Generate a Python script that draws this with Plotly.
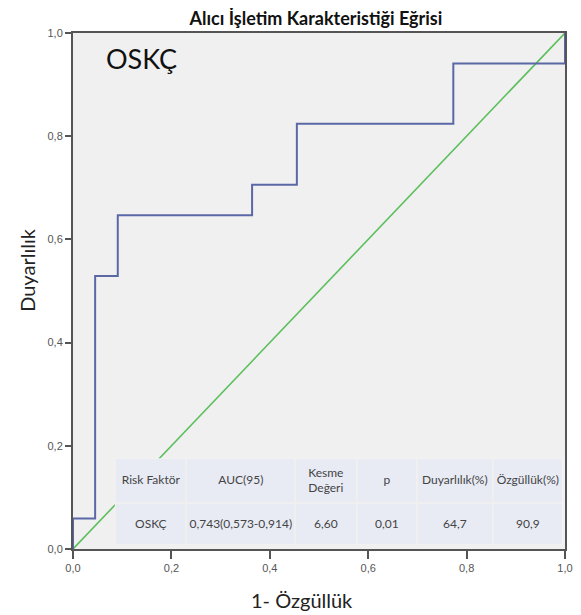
import plotly.graph_objects as go

# ROC curve data (1-specificity, sensitivity)
fpr = [0.0, 0.0, 0.045, 0.045, 0.091, 0.091, 0.364, 0.364, 0.455, 0.455, 0.773, 0.773, 1.0, 1.0]
tpr = [0.0, 0.059, 0.059, 0.529, 0.529, 0.647, 0.647, 0.706, 0.706, 0.824, 0.824, 0.941, 0.941, 1.0]
ref_x = [0.0, 1.0]
ref_y = [0.0, 1.0]

tick_vals = [0.0, 0.2, 0.4, 0.6, 0.8, 1.0]
tick_text = ["0,0", "0,2", "0,4", "0,6", "0,8", "1,0"]

table_header = ["Risk Faktör", "AUC(95)", "Kesme<br>Değeri", "p", "Duyarlılık(%)", "Özgüllük(%)"]
table_row = ["OSKÇ", "0,743(0,573-0,914)", "6,60", "0,01", "64,7", "90,9"]
col_widths = [71, 109, 62, 60, 75, 70]
row_heights = [42, 45]  # data row (bottom), header row (top)

col_edges = [0]
for w in col_widths:
    col_edges.append(col_edges[-1] + w)
row_edges = [0]
for h in row_heights:
    row_edges.append(row_edges[-1] + h)

fig = go.Figure()
fig.add_trace(go.Scatter(x=ref_x, y=ref_y, mode="lines",
                         line=dict(color="#5cbf5c", width=1.6), showlegend=False, hoverinfo="skip"))
fig.add_trace(go.Scatter(x=fpr, y=tpr, mode="lines",
                         line=dict(color="#5a68a6", width=2), showlegend=False))

fig.add_trace(go.Heatmap(
    x=col_edges, y=row_edges,
    z=[[1] * len(col_widths), [1] * len(col_widths)],
    text=[table_row, table_header],
    texttemplate="%{text}",
    textfont=dict(family="Lato, sans-serif", size=12, color="#444"),
    colorscale=[[0, "#e8ebf4"], [1, "#e8ebf4"]], showscale=False,
    xgap=2, ygap=2, hoverinfo="skip",
    xaxis="x2", yaxis="y2",
))

axis_common = dict(range=[0, 1], tickvals=tick_vals, ticktext=tick_text, showgrid=False, zeroline=False,
                   showline=True, linecolor="#555", linewidth=2, mirror=True, ticks="outside",
                   tickcolor="#555", tickwidth=2,
                   tickfont=dict(family="Liberation Sans, Arial, sans-serif", size=11, color="#555"))

# page body has an 8px default margin; margins compensate so the plot area sits at 73..565 x 33..549
fig.update_layout(
    width=581, height=615,
    margin=dict(l=65, r=24, t=25, b=74, autoexpand=False),
    paper_bgcolor="white", plot_bgcolor="#f0f0f0",
    title=dict(text="<b>Alıcı İşletim Karakteristiği Eğrisi</b>", x=0.530, xanchor="center", y=1.0, yanchor="top",
               pad=dict(t=4, b=0),
               font=dict(family="Lato, sans-serif", size=18, color="#111")),
    xaxis=dict(**axis_common, ticklen=8),
    yaxis=dict(**axis_common, ticklen=6),
    xaxis2=dict(domain=[0.085, 0.995], range=[0, col_edges[-1]], anchor="y2", visible=False, fixedrange=True),
    yaxis2=dict(domain=[0.008, 0.176], range=[0, row_edges[-1]], anchor="x2", visible=False, fixedrange=True),
    shapes=[dict(type="rect", xref="x2 domain", yref="y2 domain", x0=0, x1=1, y0=0, y1=1,
                 fillcolor="white", line_width=0, layer="below")],
    annotations=[
        dict(text="OSKÇ", x=0.064, y=0.951, xref="x", yref="y", xanchor="left", yanchor="middle",
             showarrow=False, font=dict(family="Lato, sans-serif", size=27, color="#111")),
        dict(text="1- Özgüllük", x=0.465, y=-0.099, xref="paper", yref="paper", xanchor="center", yanchor="middle",
             showarrow=False, font=dict(family="Lato, sans-serif", size=20, color="#222")),
        dict(text="Duyarlılık", x=-0.0935, y=0.541, xref="paper", yref="paper", xanchor="center", yanchor="middle",
             textangle=-90, showarrow=False, font=dict(family="Lato, sans-serif", size=20, color="#222")),
    ],
)

fig.write_html("out.html")
